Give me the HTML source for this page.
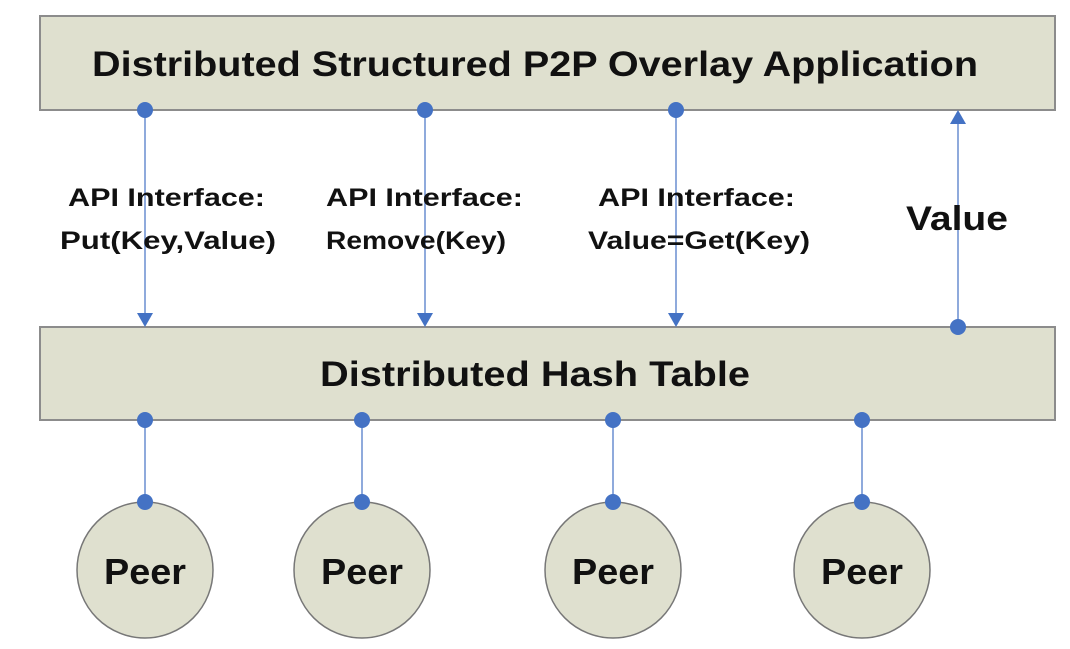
<!DOCTYPE html>
<html><head><style>body{margin:0;background:#fff}</style></head><body>
<svg width="1070" height="644" xmlns="http://www.w3.org/2000/svg" font-family="Liberation Sans, sans-serif" font-weight="bold">
<rect x="40" y="16" width="1015" height="94" fill="#dfe0cf" stroke="#8c8c8c" stroke-width="2"/>
<rect x="40" y="327" width="1015" height="93" fill="#dfe0cf" stroke="#8c8c8c" stroke-width="2"/>
<text x="92" y="76" font-size="35" textLength="886" lengthAdjust="spacingAndGlyphs" fill="#111">Distributed Structured P2P Overlay Application</text>
<text x="320" y="386" font-size="35" textLength="430" lengthAdjust="spacingAndGlyphs" fill="#111">Distributed Hash Table</text>
<g stroke="#8faadc" stroke-width="2">
<line x1="145" y1="110" x2="145" y2="315"/><line x1="425" y1="110" x2="425" y2="315"/>
<line x1="676" y1="110" x2="676" y2="315"/><line x1="958" y1="327" x2="958" y2="122"/>
<line x1="145" y1="420" x2="145" y2="503"/><line x1="362" y1="420" x2="362" y2="503"/>
<line x1="613" y1="420" x2="613" y2="503"/><line x1="862" y1="420" x2="862" y2="503"/>
</g>
<g fill="#4472c4">
<polygon points="137,313 153,313 145,327"/><polygon points="417,313 433,313 425,327"/>
<polygon points="668,313 684,313 676,327"/><polygon points="950,124 966,124 958,110"/>
<circle cx="145" cy="110" r="8"/><circle cx="425" cy="110" r="8"/><circle cx="676" cy="110" r="8"/><circle cx="958" cy="327" r="8"/>
</g>
<g fill="#dfe0cf" stroke="#777" stroke-width="1.5">
<circle cx="145" cy="570" r="68"/><circle cx="362" cy="570" r="68"/><circle cx="613" cy="570" r="68"/><circle cx="862" cy="570" r="68"/>
</g>
<g fill="#4472c4">
<circle cx="145" cy="420" r="8"/><circle cx="362" cy="420" r="8"/><circle cx="613" cy="420" r="8"/><circle cx="862" cy="420" r="8"/>
<circle cx="145" cy="502" r="8"/><circle cx="362" cy="502" r="8"/><circle cx="613" cy="502" r="8"/><circle cx="862" cy="502" r="8"/>
</g>
<g font-size="25" fill="#111">
<text x="68" y="206" textLength="197" lengthAdjust="spacingAndGlyphs">API Interface:</text>
<text x="60" y="249" textLength="216" lengthAdjust="spacingAndGlyphs">Put(Key,Value)</text>
<text x="326" y="206" textLength="197" lengthAdjust="spacingAndGlyphs">API Interface:</text>
<text x="326" y="249" textLength="180" lengthAdjust="spacingAndGlyphs">Remove(Key)</text>
<text x="598" y="206" textLength="197" lengthAdjust="spacingAndGlyphs">API Interface:</text>
<text x="588" y="249" textLength="222" lengthAdjust="spacingAndGlyphs">Value=Get(Key)</text>
</g>
<text x="906" y="230" font-size="34" textLength="102" lengthAdjust="spacingAndGlyphs" fill="#111">Value</text>
<g font-size="36" fill="#111">
<text x="104" y="584" textLength="82" lengthAdjust="spacingAndGlyphs">Peer</text>
<text x="321" y="584" textLength="82" lengthAdjust="spacingAndGlyphs">Peer</text>
<text x="572" y="584" textLength="82" lengthAdjust="spacingAndGlyphs">Peer</text>
<text x="821" y="584" textLength="82" lengthAdjust="spacingAndGlyphs">Peer</text>
</g>
</svg>
</body></html>
